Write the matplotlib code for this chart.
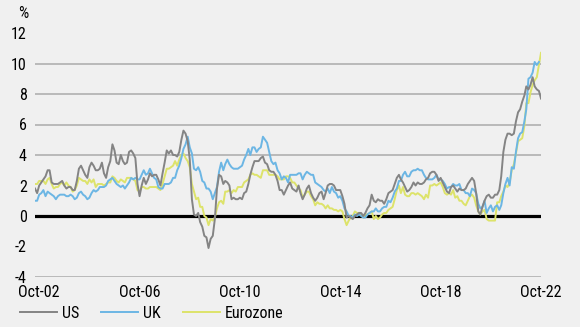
import pandas as pd
import matplotlib.pyplot as plt
import matplotlib.dates as mdates
from matplotlib import font_manager

# monthly inflation, y/y %, Aug-02 .. Oct-22
us = [1.8, 1.5, 2.0, 2.2, 2.4,
      2.6, 3.0, 3.0, 2.2, 2.1, 2.1, 2.1, 2.2, 2.3, 2.0, 1.8, 1.9,
      1.9, 1.7, 1.7, 2.3, 3.1, 3.3, 3.0, 2.7, 2.5, 3.2, 3.5, 3.3,
      3.0, 3.0, 3.1, 3.5, 2.8, 2.5, 3.2, 3.6, 4.7, 4.3, 3.5, 3.4,
      4.0, 3.6, 3.4, 3.5, 4.2, 4.3, 4.1, 3.8, 2.1, 1.3, 2.0, 2.5,
      2.1, 2.4, 2.8, 2.6, 2.7, 2.7, 2.4, 2.0, 2.8, 3.5, 4.3, 4.1,
      4.3, 4.0, 4.0, 3.9, 4.2, 5.0, 5.6, 5.4, 4.9, 3.7, 1.1, 0.1,
      0.0, 0.2, -0.4, -0.7, -1.3, -1.4, -2.1, -1.5, -1.3, -0.2, 1.8, 2.7,
      2.6, 2.1, 2.3, 2.2, 2.0, 1.1, 1.2, 1.1, 1.1, 1.2, 1.1, 1.5,
      1.6, 2.1, 2.7, 3.2, 3.6, 3.6, 3.6, 3.8, 3.9, 3.5, 3.4, 3.0,
      2.9, 2.9, 2.7, 2.3, 1.7, 1.7, 1.4, 1.7, 2.0, 2.2, 1.8, 1.7,
      1.6, 2.0, 1.5, 1.1, 1.4, 1.8, 2.0, 1.5, 1.2, 1.0, 1.2, 1.5,
      1.6, 1.1, 1.5, 2.0, 2.1, 2.1, 2.0, 1.7, 1.7, 1.7, 1.3, 0.8,
      -0.1, 0.0, -0.1, -0.2, 0.0, 0.1, 0.2, 0.2, 0.0, 0.2, 0.5, 0.7,
      1.4, 1.0, 0.9, 1.1, 1.0, 1.0, 0.8, 1.1, 1.5, 1.6, 1.7, 2.1,
      2.5, 2.7, 2.4, 2.2, 1.9, 1.6, 1.7, 1.9, 2.2, 2.0, 2.2, 2.1,
      2.1, 2.2, 2.4, 2.5, 2.8, 2.9, 2.9, 2.7, 2.3, 2.5, 2.2, 1.9,
      1.6, 1.5, 1.9, 2.0, 1.8, 1.6, 1.8, 1.7, 1.7, 1.8, 2.1, 2.3,
      2.5, 2.3, 1.5, 0.3, 0.1, 0.6, 1.0, 1.3, 1.4, 1.2, 1.2, 1.4,
      1.4, 1.7, 2.6, 4.2, 5.0, 5.4, 5.4, 5.3, 5.4, 6.2, 6.8, 7.0,
      7.5, 7.9, 8.5, 8.3, 8.6, 9.1, 8.5, 8.3, 8.2, 7.7]

# UK series stops at Sep-22
uk = [1.0, 1.0, 1.4, 1.5, 1.7,
      1.3, 1.6, 1.5, 1.4, 1.3, 1.1, 1.3, 1.4, 1.4, 1.4, 1.3, 1.3,
      1.4, 1.3, 1.1, 1.2, 1.5, 1.6, 1.4, 1.3, 1.1, 1.2, 1.5, 1.7,
      1.6, 1.7, 1.9, 1.9, 1.9, 2.0, 2.3, 2.4, 2.5, 2.3, 2.1, 2.0,
      1.9, 2.0, 1.8, 2.0, 2.2, 2.5, 2.4, 2.5, 2.4, 2.4, 2.7, 3.0,
      2.7, 2.8, 3.1, 2.8, 2.5, 2.4, 1.9, 1.8, 1.8, 2.1, 2.1, 2.1,
      2.2, 2.5, 2.5, 3.0, 3.3, 3.8, 4.4, 4.7, 5.2, 4.5, 4.1, 3.1,
      3.0, 3.2, 2.9, 2.3, 2.2, 1.8, 1.8, 1.6, 1.1, 1.5, 1.9, 2.9,
      3.5, 3.0, 3.4, 3.7, 3.4, 3.2, 3.1, 3.1, 3.1, 3.2, 3.3, 3.7,
      4.0, 4.4, 4.0, 4.5, 4.5, 4.2, 4.4, 4.5, 5.2, 5.0, 4.8, 4.2,
      3.6, 3.4, 3.5, 3.0, 2.8, 2.4, 2.6, 2.5, 2.2, 2.7, 2.7, 2.7,
      2.7, 2.8, 2.8, 2.4, 2.7, 2.9, 2.8, 2.7, 2.7, 2.2, 2.1, 2.0,
      1.9, 1.7, 1.6, 1.8, 1.5, 1.9, 1.6, 1.5, 1.2, 1.3, 1.0, 0.5,
      0.3, 0.0, 0.0, -0.1, 0.1, 0.0, 0.1, 0.0, -0.1, -0.1, 0.1, 0.2,
      0.3, 0.3, 0.5, 0.3, 0.3, 0.5, 0.6, 0.6, 1.0, 0.9, 1.2, 1.6,
      1.8, 2.3, 2.3, 2.7, 2.9, 2.6, 2.6, 2.9, 3.0, 3.0, 3.1, 3.0,
      3.0, 2.7, 2.5, 2.4, 2.4, 2.4, 2.5, 2.7, 2.4, 2.4, 2.3, 2.1,
      1.8, 1.9, 1.9, 2.1, 2.0, 2.0, 2.1, 1.7, 1.7, 1.5, 1.5, 1.3,
      1.8, 1.7, 1.5, 0.8, 0.5, 0.6, 1.0, 0.2, 0.5, 0.7, 0.3, 0.6,
      0.7, 0.4, 0.7, 1.5, 2.1, 2.5, 2.0, 3.2, 3.1, 4.2, 5.1, 5.4,
      5.5, 6.2, 7.0, 9.0, 9.1, 9.4, 10.1, 9.9, 10.1]

ez = [2.1, 2.1, 2.3, 2.3, 2.3,
      2.1, 2.4, 2.5, 2.1, 1.8, 1.9, 1.9, 2.1, 2.2, 2.0, 2.2, 2.0,
      1.9, 1.6, 1.7, 2.0, 2.5, 2.4, 2.3, 2.3, 2.1, 2.4, 2.2, 2.4,
      1.9, 2.1, 2.1, 2.1, 2.0, 2.1, 2.2, 2.2, 2.6, 2.5, 2.3, 2.2,
      2.4, 2.3, 2.2, 2.5, 2.5, 2.5, 2.4, 2.3, 1.7, 1.6, 1.9, 1.9,
      1.8, 1.8, 1.9, 1.9, 1.9, 1.9, 1.8, 1.7, 2.1, 2.6, 3.1, 3.1,
      3.2, 3.3, 3.6, 3.3, 3.7, 4.0, 4.1, 3.8, 3.6, 3.2, 2.1, 1.6,
      1.1, 1.2, 0.6, 0.6, 0.0, -0.1, -0.6, -0.2, -0.3, -0.1, 0.5, 0.9,
      1.0, 0.8, 1.6, 1.6, 1.7, 1.5, 1.7, 1.6, 1.9, 1.9, 1.9, 2.2,
      2.3, 2.4, 2.7, 2.8, 2.7, 2.7, 2.6, 2.5, 3.0, 3.0, 3.0, 2.7,
      2.7, 2.7, 2.7, 2.6, 2.4, 2.4, 2.4, 2.6, 2.6, 2.5, 2.2, 2.2,
      2.0, 1.8, 1.7, 1.2, 1.4, 1.6, 1.6, 1.3, 1.1, 0.7, 0.9, 0.8,
      0.8, 0.7, 0.5, 0.7, 0.5, 0.5, 0.4, 0.4, 0.3, 0.4, 0.3, -0.2,
      -0.6, -0.3, -0.1, 0.0, 0.3, 0.2, 0.2, 0.1, -0.1, 0.1, 0.1, 0.2,
      0.3, -0.2, 0.0, -0.2, -0.1, 0.1, 0.2, 0.2, 0.4, 0.5, 0.6, 1.1,
      1.7, 2.0, 1.5, 1.9, 1.4, 1.3, 1.3, 1.5, 1.5, 1.4, 1.5, 1.4,
      1.3, 1.1, 1.4, 1.2, 2.0, 2.0, 2.1, 2.0, 2.1, 2.2, 1.9, 1.5,
      1.4, 1.5, 1.4, 1.7, 1.2, 1.3, 1.0, 1.0, 0.8, 0.7, 1.0, 1.3,
      1.4, 1.2, 0.7, 0.3, 0.1, 0.3, 0.4, -0.2, -0.3, -0.3, -0.3, -0.3,
      0.9, 0.9, 1.3, 1.6, 2.0, 1.9, 2.2, 3.0, 3.4, 4.1, 4.9, 5.0,
      5.1, 5.9, 7.4, 7.4, 8.1, 8.6, 8.9, 9.1, 9.9, 10.7]

dates = pd.date_range('2002-08-01', periods=len(us), freq='MS')
tick_dates = pd.date_range('2002-10-01', '2022-10-01', freq='48MS')
y_ticks = list(range(-4, 13, 2))
grid_levels = [-4, 4, 6, 8, 10]

# pick a narrow font if one is there
installed = {f.name for f in font_manager.fontManager.ttflist}
font = 'Roboto'
for name in ['Liberation Sans Narrow', 'Roboto Condensed', 'Open Sans Condensed']:
    if name in installed:
        font = name
        break
narrow = font != 'Roboto'

plt.rcParams['font.family'] = [font, 'DejaVu Sans']
plt.rcParams['font.size'] = 11.5 if narrow else 10.5
plt.rcParams['axes.unicode_minus'] = False

bg = '#f0f0f0'
fig = plt.figure(figsize=(5.8, 3.27), dpi=100, facecolor=bg)
ax = fig.add_axes([35 / 580, 1 - 277 / 327, 506 / 580, 244 / 327], facecolor=bg)

for lvl in grid_levels:
    ax.axhline(lvl, color='#b5b5b5', lw=1.3, zorder=1)
ax.axhline(0, color='black', lw=2.3, zorder=2)

l_ez, = ax.plot(dates, ez, color='#dde36a', lw=1.4, zorder=3)
l_uk, = ax.plot(dates[:len(uk)], uk, color='#6cb6e4', lw=1.4, zorder=4)
l_us, = ax.plot(dates, us, color='#848484', lw=1.4, zorder=5)

ax.set_xlim(dates[0], dates[-1])
ax.set_ylim(-4, 12)
ax.set_yticks(y_ticks)
ax.set_xticks(tick_dates)
ax.xaxis.set_major_formatter(mdates.DateFormatter('Oct-%y'))
ax.tick_params(length=0, colors='black')
ax.tick_params(axis='y', pad=6)
ax.tick_params(axis='x', pad=6)
for s in ax.spines.values():
    s.set_visible(False)

fig.text(23 / 580, 1 - 13 / 327, '%', ha='center', va='center')

fig.legend([l_us, l_uk, l_ez], ['US', 'UK', 'Eurozone'], ncol=3,
           loc='center left', bbox_to_anchor=(20 / 580, 1 - 313 / 327),
           frameon=False, handlelength=2.3, handletextpad=0.3,
           columnspacing=1.4, borderaxespad=0, borderpad=0)

fig.savefig('out.png', dpi=100, facecolor=bg)
